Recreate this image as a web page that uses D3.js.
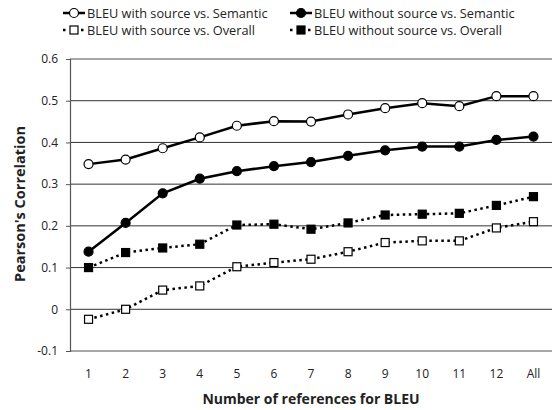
<!DOCTYPE html>
<html>
<head>
<meta charset="utf-8">
<script src="https://cdn.jsdelivr.net/npm/d3@7"></script>
<style>
  body { margin: 0; background: #fff; }
  svg text { font-family: "Open Sans", "Liberation Sans", sans-serif; fill: #222; }
</style>
</head>
<body>
<svg id="chart" width="554" height="410"></svg>
<script>
const categories = ["1", "2", "3", "4", "5", "6", "7", "8", "9", "10", "11", "12", "All"];
const withSrcSemantic = [0.348, 0.359, 0.386, 0.412, 0.440, 0.451, 0.450, 0.467, 0.482, 0.494, 0.487, 0.511, 0.511];
const noSrcSemantic = [0.138, 0.207, 0.278, 0.313, 0.331, 0.343, 0.353, 0.368, 0.381, 0.390, 0.390, 0.406, 0.414];
const withSrcOverall = [-0.024, 0.000, 0.046, 0.056, 0.102, 0.112, 0.120, 0.138, 0.160, 0.164, 0.164, 0.195, 0.210];
const noSrcOverall = [0.100, 0.136, 0.147, 0.156, 0.202, 0.204, 0.192, 0.207, 0.226, 0.228, 0.230, 0.249, 0.270];
const yTicks = [-0.1, 0, 0.1, 0.2, 0.3, 0.4, 0.5, 0.6];

const series = [
  { name: "BLEU with source vs. Semantic", values: withSrcSemantic, shape: "circle", fill: "#fff", dotted: false },
  { name: "BLEU without source vs. Semantic", values: noSrcSemantic, shape: "circle", fill: "#000", dotted: false },
  { name: "BLEU with source vs. Overall", values: withSrcOverall, shape: "square", fill: "#fff", dotted: true },
  { name: "BLEU without source vs. Overall", values: noSrcOverall, shape: "square", fill: "#000", dotted: true }
];

const svg = d3.select("#chart");
const margin = { top: 59, right: 2, bottom: 59, left: 70 };
const width = 554 - margin.left - margin.right;
const height = 410 - margin.top - margin.bottom;

const x = d3.scaleBand().domain(categories).range([0, width]).padding(0);
const y = d3.scaleLinear().domain([-0.1, 0.6]).range([height, 0]);

const g = svg.append("g").attr("transform", "translate(" + margin.left + "," + margin.top + ")");

// gridlines
g.selectAll(".grid")
  .data(yTicks)
  .enter().append("line")
  .attr("x1", 0).attr("x2", width)
  .attr("y1", d => y(d)).attr("y2", d => y(d))
  .attr("stroke", d => (d === 0.6 || d === -0.1) ? "#8a8a8a" : "#333")
  .attr("stroke-width", d => (d === 0.6 || d === -0.1) ? 1.5 : 1);

// y axis (plain hyphen for negatives, like the original)
const yAxis = g.append("g")
  .call(d3.axisLeft(y).tickValues(yTicks).tickSize(4).tickPadding(8)
    .tickFormat(d => String(+d.toFixed(1))));
yAxis.select(".domain").attr("stroke", "#555").attr("stroke-width", 1.2);
yAxis.selectAll(".tick line").attr("stroke", "#555");
yAxis.selectAll("text").style("font-size", "12px").attr("fill", "#222");

// x tick labels
g.selectAll(".xlab")
  .data(categories)
  .enter().append("text")
  .attr("x", d => x(d) + x.bandwidth() / 2)
  .attr("y", height + 27)
  .attr("text-anchor", "middle")
  .style("font-size", "12px")
  .text(d => d);

// axis titles
svg.append("text")
  .attr("x", 311)
  .attr("y", 404)
  .attr("text-anchor", "middle")
  .style("font-size", "14px")
  .style("font-weight", "bold")
  .text("Number of references for BLEU");

svg.append("text")
  .attr("transform", "translate(25,204)rotate(-90)")
  .attr("text-anchor", "middle")
  .style("font-size", "14.5px")
  .style("font-weight", "bold")
  .text("Pearson's Correlation");

const line = d3.line()
  .x((d, i) => x(categories[i]) + x.bandwidth() / 2)
  .y(d => y(d));

function drawMarker(sel, s, cx, cy) {
  if (s.shape === "circle") {
    sel.append("circle").attr("cx", cx).attr("cy", cy).attr("r", 4.5)
      .attr("fill", s.fill).attr("stroke", "#000").attr("stroke-width", 1.2);
  } else {
    sel.append("rect").attr("x", cx - 4).attr("y", cy - 4).attr("width", 8).attr("height", 8)
      .attr("fill", s.fill).attr("stroke", "#000").attr("stroke-width", 1.2);
  }
}

series.forEach(function (s) {
  g.append("path")
    .datum(s.values)
    .attr("d", line)
    .attr("fill", "none")
    .attr("stroke", "#000")
    .attr("stroke-width", 2.5)
    .attr("stroke-dasharray", s.dotted ? "2.5,3.5" : null);
  const mg = g.append("g");
  s.values.forEach(function (v, i) {
    drawMarker(mg, s, x(categories[i]) + x.bandwidth() / 2, y(v));
  });
});

// legend
const legendPos = [
  { x: 63, y: 13 }, { x: 290, y: 13 },
  { x: 63, y: 30 }, { x: 290, y: 30 }
];
series.forEach(function (s, i) {
  const p = legendPos[i];
  const lg = svg.append("g");
  lg.append("line")
    .attr("x1", p.x).attr("x2", p.x + 22)
    .attr("y1", p.y).attr("y2", p.y)
    .attr("stroke", "#000").attr("stroke-width", 2.5)
    .attr("stroke-dasharray", s.dotted ? "2.5,6.5" : null);
  drawMarker(lg, s, p.x + 11, p.y);
  lg.append("text")
    .attr("x", p.x + 24)
    .attr("y", p.y + 4.5)
    .style("font-size", "12.75px")
    .text(s.name);
});
</script>
</body>
</html>
